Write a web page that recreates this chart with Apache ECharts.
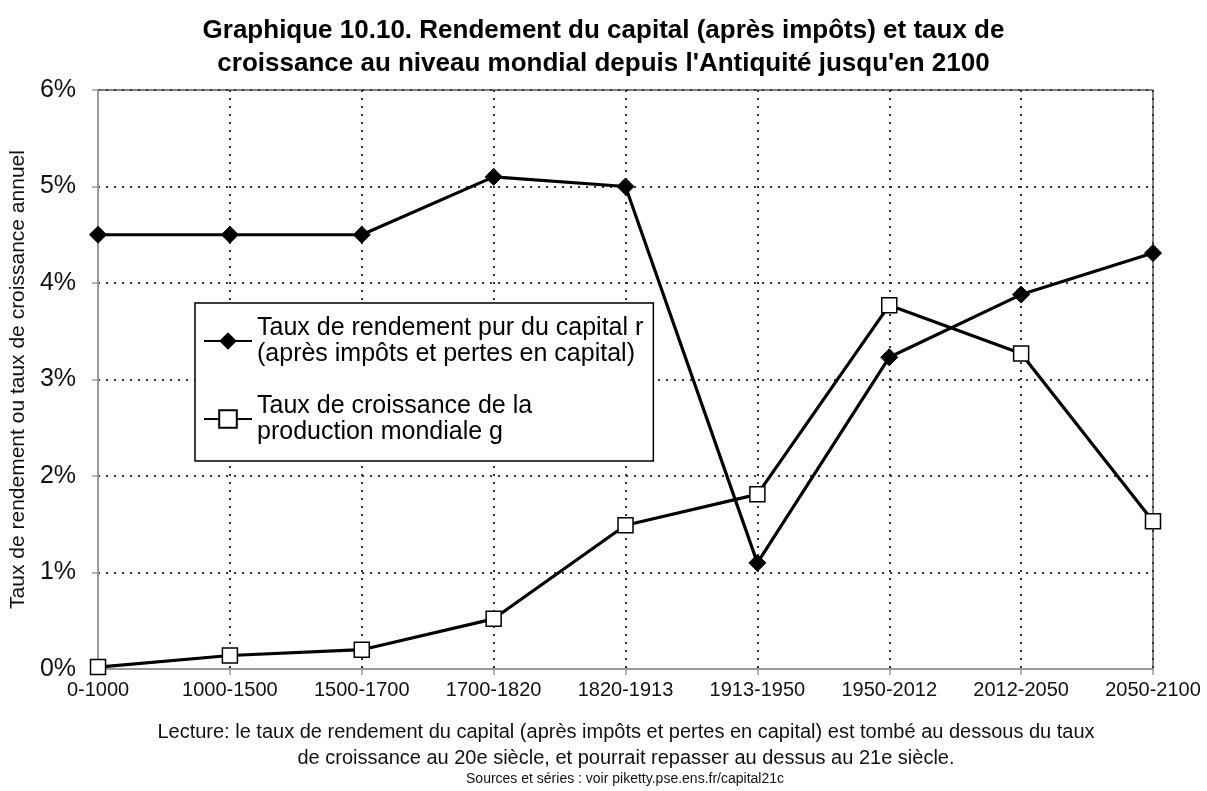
<!DOCTYPE html>
<html><head><meta charset="utf-8">
<script src="https://cdn.jsdelivr.net/npm/echarts@6/dist/echarts.min.js"></script>
<style>html,body{margin:0;padding:0;background:#fff}#c{width:1207px;height:791px}</style>
</head><body><div id="c"></div>
<script>
const categories = ['0-1000','1000-1500','1500-1700','1700-1820','1820-1913','1913-1950','1950-2012','2012-2050','2050-2100'];
const rValues = [4.5, 4.5, 4.5, 5.1, 5.0, 1.1, 3.23, 3.88, 4.31];
const gValues = [0.02, 0.14, 0.2, 0.52, 1.49, 1.81, 3.77, 3.27, 1.53];
const yTicks = [0, 1, 2, 3, 4, 5, 6];
const rName = 'Taux de rendement pur du capital r\n(après impôts et pertes en capital)';
const gName = 'Taux de croissance de la\nproduction mondiale g';
const FONT = 'Liberation Sans, Arial, sans-serif';

const chart = echarts.init(document.getElementById('c'));
chart.setOption({
  backgroundColor: '#fff',
  animation: false,
  title: {
    text: 'Graphique 10.10. Rendement du capital (après impôts) et taux de\ncroissance au niveau mondial depuis l\'Antiquité jusqu\'en 2100',
    left: 'center', top: 9,
    textStyle: { fontFamily: FONT, fontWeight: 'bold', fontSize: 26, lineHeight: 33, color: '#000' }
  },
  grid: { left: 94, right: 54, top: 90, bottom: 122, show: true, borderColor: '#000', borderWidth: 1, containLabel: false },
  legend: {
    orient: 'vertical', left: 195, top: 303,
    backgroundColor: '#fff', borderColor: '#000', borderWidth: 1.5,
    padding: [12, 10, 16, 8],
    itemWidth: 48, itemHeight: 22, itemGap: 26,
    textStyle: { fontFamily: FONT, fontSize: 25, lineHeight: 26, color: '#000' },
    data: [rName, gName]
  },
  xAxis: {
    type: 'category', data: categories, boundaryGap: false,
    axisLine: { lineStyle: { color: '#9a9a9a', width: 2 } },
    axisTick: { show: true, length: 6, lineStyle: { color: '#9a9a9a', width: 1.5 } },
    axisLabel: { fontFamily: FONT, fontSize: 20, color: '#111', margin: 11 },
    splitLine: { show: true, lineStyle: { color: '#333', type: [2, 6], width: 2 } }
  },
  yAxis: {
    type: 'value', min: 0, max: 6, interval: 1,
    name: 'Taux de rendement ou taux de croissance annuel',
    nameLocation: 'middle', nameGap: 59, nameRotate: 90,
    nameTextStyle: { fontFamily: FONT, fontSize: 21, color: '#111' },
    axisLine: { show: true, lineStyle: { color: '#9a9a9a', width: 2 } },
    axisTick: { show: true, length: 6, lineStyle: { color: '#9a9a9a', width: 1.5 } },
    axisLabel: { fontFamily: FONT, fontSize: 25, color: '#111', margin: 22,
      formatter: v => yTicks.includes(v) ? v + '%' : '' },
    splitLine: { show: true, lineStyle: { color: '#333', type: [2, 6], width: 2 } }
  },
  series: [
    { name: rName, type: 'line', data: rValues, symbol: 'diamond', symbolSize: 17,
      lineStyle: { color: '#000', width: 3.2 }, itemStyle: { color: '#000', borderColor: '#000' }, z: 3 },
    { name: gName, type: 'line', data: gValues, symbol: 'rect', symbolSize: 15,
      lineStyle: { color: '#000', width: 3.2 }, itemStyle: { color: '#fff', borderColor: '#000', borderWidth: 1.5 }, z: 4 }
  ],
  graphic: [
    { type: 'text', x: 626, y: 719, style: { text: 'Lecture: le taux de rendement du capital (après impôts et pertes en capital) est tombé au dessous du taux\nde croissance au 20e siècle, et pourrait repasser au dessus au 21e siècle.',
      font: '20px ' + FONT, lineHeight: 26, align: 'center', fill: '#111' } },
    { type: 'text', x: 625, y: 772, style: { text: 'Sources et séries : voir piketty.pse.ens.fr/capital21c',
      font: '14px ' + FONT, align: 'center', fill: '#111' } }
  ]
});
</script></body></html>
